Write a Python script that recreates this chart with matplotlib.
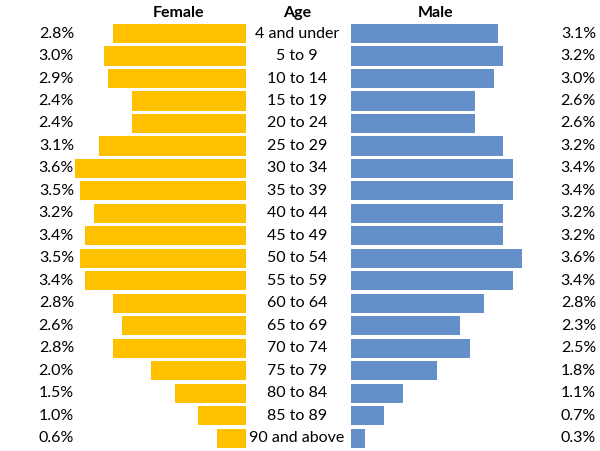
import matplotlib.pyplot as plt

ages = ['4 and under', '5 to 9', '10 to 14', '15 to 19', '20 to 24', '25 to 29',
        '30 to 34', '35 to 39', '40 to 44', '45 to 49', '50 to 54', '55 to 59',
        '60 to 64', '65 to 69', '70 to 74', '75 to 79', '80 to 84', '85 to 89',
        '90 and above']
female = [2.8, 3.0, 2.9, 2.4, 2.4, 3.1, 3.6, 3.5, 3.2, 3.4, 3.5, 3.4,
          2.8, 2.6, 2.8, 2.0, 1.5, 1.0, 0.6]
male = [3.1, 3.2, 3.0, 2.6, 2.6, 3.2, 3.4, 3.4, 3.2, 3.2, 3.6, 3.4,
        2.8, 2.3, 2.5, 1.8, 1.1, 0.7, 0.3]

plt.rcParams['font.family'] = ['Lato', 'DejaVu Sans']

W, H = 600, 451
fig = plt.figure(figsize=(W / 100, H / 100), dpi=100)

px = 47.5  # pixels per percent
top, bottom = 22.3, 449.5
ay = 1 - bottom / H
ah = (bottom - top) / H
fs = 11.5

# female side (bars grow to the left)
axf = fig.add_axes([0, ay, 246 / W, ah])
axf.barh(range(len(ages)), female, height=0.85, color='#FFC000')
axf.set_xlim(246 / px, 0)
axf.set_ylim(len(ages) - 0.5, -0.5)
axf.axis('off')
for i, v in enumerate(female):
    axf.text(74 / 246, i, f'{v:.1f}%', transform=axf.get_yaxis_transform(),
             ha='right', va='center', fontsize=fs)

# male side
axm = fig.add_axes([351 / W, ay, (W - 351) / W, ah])
axm.barh(range(len(ages)), male, height=0.85, color='#658FC8')
axm.set_xlim(0, (W - 351) / px)
axm.set_ylim(len(ages) - 0.5, -0.5)
axm.axis('off')
for i, v in enumerate(male):
    axm.text((596 - 351) / (W - 351), i, f'{v:.1f}%', transform=axm.get_yaxis_transform(),
             ha='right', va='center', fontsize=fs)

# age labels in the middle
for i, a in enumerate(ages):
    axm.text(-54 / (W - 351), i, a, transform=axm.get_yaxis_transform(),
             ha='center', va='center', fontsize=fs)

hy = 1 - 13 / H
fig.text(178 / W, hy, 'Female', ha='center', va='center', fontsize=fs, fontweight='bold')
fig.text(297 / W, hy, 'Age', ha='center', va='center', fontsize=fs, fontweight='bold')
fig.text(436 / W, hy, 'Male', ha='center', va='center', fontsize=fs, fontweight='bold')

fig.savefig('out.png', dpi=100)
